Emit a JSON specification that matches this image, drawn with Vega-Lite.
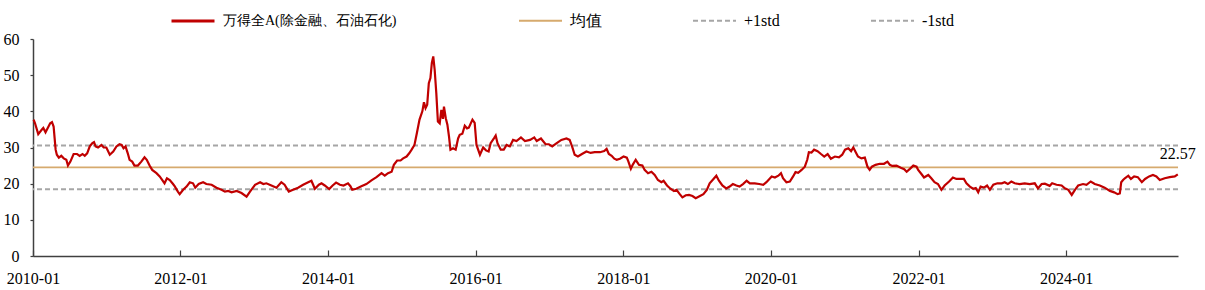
{
  "$schema": "https://vega.github.io/schema/vega-lite/v6.json",
  "width": 1145,
  "height": 217,
  "autosize": {"type": "none"},
  "padding": {"left": 33, "top": 39, "right": 27, "bottom": 34},
  "background": "white",
  "config": {
    "font": "'Liberation Serif', 'Times New Roman', serif",
    "view": {"stroke": null},
    "axis": {"labelFont": "'Liberation Serif', 'Times New Roman', serif", "labelFontSize": 16, "labelColor": "#000000", "grid": false, "domainColor": "#404040", "domainWidth": 1.5, "tickColor": "#404040", "tickWidth": 1.2, "labelOverlap": false},
    "axisY": {"labelOverlap": false},
    "legend": {"labelFont": "'Liberation Serif', 'Times New Roman', serif", "labelFontSize": 16, "labelColor": "#000000"}
  },
  "datasets": {
    "pe": [
      {"date":"2010-01-04","pe":37.7},{"date":"2010-01-11","pe":36.7},{"date":"2010-01-27","pe":33.7},{"date":"2010-02-13","pe":34.9},{"date":"2010-02-21","pe":35.4},{"date":"2010-03-04","pe":34.2},{"date":"2010-03-15","pe":35.4},{"date":"2010-03-27","pe":36.7},{"date":"2010-04-05","pe":37.0},{"date":"2010-04-13","pe":35.8},{"date":"2010-04-18","pe":32.6},{"date":"2010-04-23","pe":29.4},{"date":"2010-04-29","pe":28.0},{"date":"2010-05-09","pe":27.2},{"date":"2010-05-21","pe":27.7},{"date":"2010-06-02","pe":27.0},{"date":"2010-06-15","pe":26.6},{"date":"2010-06-23","pe":25.0},{"date":"2010-07-05","pe":26.1},{"date":"2010-07-21","pe":28.2},{"date":"2010-08-07","pe":28.2},{"date":"2010-08-20","pe":27.7},{"date":"2010-09-03","pe":28.2},{"date":"2010-09-14","pe":27.7},{"date":"2010-09-26","pe":28.4},{"date":"2010-10-09","pe":30.3},{"date":"2010-10-22","pe":31.2},{"date":"2010-10-30","pe":31.5},{"date":"2010-11-07","pe":30.3},{"date":"2010-11-19","pe":30.0},{"date":"2010-12-06","pe":30.7},{"date":"2010-12-17","pe":30.0},{"date":"2010-12-30","pe":30.0},
      {"date":"2011-01-16","pe":28.0},{"date":"2011-02-02","pe":28.9},{"date":"2011-02-18","pe":30.3},{"date":"2011-03-05","pe":30.9},{"date":"2011-03-16","pe":30.7},{"date":"2011-03-25","pe":29.8},{"date":"2011-04-04","pe":30.3},{"date":"2011-04-15","pe":28.4},{"date":"2011-04-24","pe":26.6},{"date":"2011-05-07","pe":26.1},{"date":"2011-05-18","pe":25.0},{"date":"2011-06-04","pe":25.0},{"date":"2011-06-21","pe":26.1},{"date":"2011-07-07","pe":27.3},{"date":"2011-07-18","pe":26.6},{"date":"2011-08-01","pe":25.0},{"date":"2011-08-14","pe":23.8},{"date":"2011-09-04","pe":22.9},{"date":"2011-09-20","pe":22.0},{"date":"2011-10-03","pe":21.0},{"date":"2011-10-14","pe":20.1},{"date":"2011-10-26","pe":21.5},{"date":"2011-11-09","pe":21.0},{"date":"2011-11-25","pe":19.9},{"date":"2011-12-03","pe":19.3},{"date":"2011-12-19","pe":17.8},{"date":"2011-12-28","pe":17.1},
      {"date":"2012-01-14","pe":18.3},{"date":"2012-01-31","pe":19.2},{"date":"2012-02-16","pe":20.4},{"date":"2012-03-03","pe":20.1},{"date":"2012-03-14","pe":18.9},{"date":"2012-03-31","pe":19.9},{"date":"2012-04-22","pe":20.4},{"date":"2012-05-08","pe":19.9},{"date":"2012-06-03","pe":19.7},{"date":"2012-06-27","pe":18.9},{"date":"2012-07-22","pe":18.3},{"date":"2012-08-08","pe":17.8},{"date":"2012-08-24","pe":18.0},{"date":"2012-09-10","pe":17.6},{"date":"2012-10-05","pe":18.0},{"date":"2012-10-29","pe":17.4},{"date":"2012-11-23","pe":16.4},{"date":"2012-12-10","pe":17.8},
      {"date":"2013-01-04","pe":19.7},{"date":"2013-01-29","pe":20.4},{"date":"2013-02-14","pe":19.9},{"date":"2013-03-01","pe":20.1},{"date":"2013-03-26","pe":19.5},{"date":"2013-04-20","pe":18.9},{"date":"2013-05-14","pe":20.4},{"date":"2013-05-30","pe":19.7},{"date":"2013-06-20","pe":17.8},{"date":"2013-07-11","pe":18.3},{"date":"2013-08-05","pe":18.9},{"date":"2013-08-30","pe":19.7},{"date":"2013-09-24","pe":20.4},{"date":"2013-10-10","pe":20.8},{"date":"2013-10-27","pe":18.6},{"date":"2013-11-16","pe":19.7},{"date":"2013-11-29","pe":20.1},{"date":"2013-12-15","pe":19.5},
      {"date":"2014-01-06","pe":18.5},{"date":"2014-01-23","pe":19.5},{"date":"2014-02-09","pe":20.3},{"date":"2014-02-28","pe":19.7},{"date":"2014-03-18","pe":19.5},{"date":"2014-04-09","pe":20.1},{"date":"2014-04-21","pe":19.3},{"date":"2014-04-30","pe":18.3},{"date":"2014-05-20","pe":18.6},{"date":"2014-06-14","pe":19.3},{"date":"2014-07-09","pe":19.9},{"date":"2014-08-03","pe":20.9},{"date":"2014-08-28","pe":21.8},{"date":"2014-09-22","pe":22.9},{"date":"2014-10-08","pe":22.2},{"date":"2014-10-24","pe":22.9},{"date":"2014-11-11","pe":23.3},{"date":"2014-11-22","pe":25.2},{"date":"2014-12-08","pe":26.4},{"date":"2014-12-25","pe":26.4},
      {"date":"2015-01-07","pe":27.0},{"date":"2015-01-24","pe":27.5},{"date":"2015-02-06","pe":28.4},{"date":"2015-02-18","pe":29.4},{"date":"2015-03-04","pe":30.7},{"date":"2015-03-16","pe":34.0},{"date":"2015-03-29","pe":37.7},{"date":"2015-04-12","pe":40.0},{"date":"2015-04-20","pe":42.5},{"date":"2015-04-28","pe":40.9},{"date":"2015-05-06","pe":41.8},{"date":"2015-05-14","pe":47.8},{"date":"2015-05-22","pe":49.2},{"date":"2015-05-29","pe":53.4},{"date":"2015-06-05","pe":55.2},{"date":"2015-06-12","pe":51.5},{"date":"2015-06-20","pe":45.1},{"date":"2015-06-28","pe":37.2},{"date":"2015-07-07","pe":36.7},{"date":"2015-07-15","pe":40.4},{"date":"2015-07-23","pe":37.9},{"date":"2015-07-28","pe":41.3},{"date":"2015-08-06","pe":38.1},{"date":"2015-08-14","pe":36.3},{"date":"2015-08-22","pe":33.0},{"date":"2015-08-29","pe":29.4},{"date":"2015-09-11","pe":29.8},{"date":"2015-09-24","pe":29.4},{"date":"2015-10-06","pe":32.5},{"date":"2015-10-14","pe":33.5},{"date":"2015-10-27","pe":33.8},{"date":"2015-11-08","pe":36.0},{"date":"2015-11-19","pe":35.3},{"date":"2015-11-28","pe":35.5},{"date":"2015-12-16","pe":37.7},{"date":"2015-12-27","pe":36.8},
      {"date":"2016-01-05","pe":30.7},{"date":"2016-01-22","pe":28.0},{"date":"2016-02-07","pe":30.0},{"date":"2016-02-21","pe":29.2},{"date":"2016-03-05","pe":28.9},{"date":"2016-03-15","pe":31.2},{"date":"2016-04-01","pe":32.6},{"date":"2016-04-09","pe":33.3},{"date":"2016-04-18","pe":31.2},{"date":"2016-05-04","pe":29.4},{"date":"2016-05-19","pe":29.4},{"date":"2016-06-02","pe":30.7},{"date":"2016-06-18","pe":30.3},{"date":"2016-07-04","pe":32.1},{"date":"2016-07-21","pe":31.8},{"date":"2016-08-12","pe":32.8},{"date":"2016-09-01","pe":31.8},{"date":"2016-09-26","pe":32.1},{"date":"2016-10-17","pe":32.8},{"date":"2016-10-29","pe":31.8},{"date":"2016-11-19","pe":32.5},{"date":"2016-12-12","pe":30.9},{"date":"2016-12-28","pe":30.9},
      {"date":"2017-01-14","pe":30.3},{"date":"2017-02-05","pe":31.2},{"date":"2017-02-28","pe":32.1},{"date":"2017-03-25","pe":32.5},{"date":"2017-04-10","pe":32.1},{"date":"2017-04-22","pe":30.3},{"date":"2017-05-05","pe":28.0},{"date":"2017-05-21","pe":27.5},{"date":"2017-06-10","pe":28.2},{"date":"2017-07-02","pe":28.9},{"date":"2017-07-23","pe":28.5},{"date":"2017-08-12","pe":28.7},{"date":"2017-09-07","pe":28.7},{"date":"2017-09-28","pe":29.0},{"date":"2017-10-10","pe":29.6},{"date":"2017-10-21","pe":28.2},{"date":"2017-11-04","pe":27.7},{"date":"2017-11-17","pe":26.9},{"date":"2017-11-29","pe":26.6},{"date":"2017-12-15","pe":26.9},
      {"date":"2018-01-02","pe":27.5},{"date":"2018-01-18","pe":27.2},{"date":"2018-01-26","pe":26.1},{"date":"2018-02-07","pe":24.1},{"date":"2018-02-16","pe":25.2},{"date":"2018-03-03","pe":26.6},{"date":"2018-03-19","pe":25.2},{"date":"2018-04-05","pe":25.0},{"date":"2018-04-16","pe":23.8},{"date":"2018-05-03","pe":22.9},{"date":"2018-05-20","pe":23.3},{"date":"2018-06-05","pe":22.4},{"date":"2018-06-21","pe":21.0},{"date":"2018-07-08","pe":20.4},{"date":"2018-07-19","pe":20.8},{"date":"2018-08-05","pe":19.5},{"date":"2018-08-22","pe":18.6},{"date":"2018-09-08","pe":18.0},{"date":"2018-09-21","pe":18.3},{"date":"2018-10-07","pe":17.1},{"date":"2018-10-20","pe":16.2},{"date":"2018-11-06","pe":16.8},{"date":"2018-11-22","pe":16.9},{"date":"2018-12-09","pe":16.6},{"date":"2018-12-25","pe":16.0},
      {"date":"2019-01-15","pe":16.6},{"date":"2019-02-01","pe":17.1},{"date":"2019-02-18","pe":18.3},{"date":"2019-03-04","pe":20.1},{"date":"2019-03-23","pe":21.3},{"date":"2019-04-06","pe":22.2},{"date":"2019-04-19","pe":20.8},{"date":"2019-05-06","pe":19.5},{"date":"2019-05-25","pe":18.7},{"date":"2019-06-11","pe":19.2},{"date":"2019-06-27","pe":19.9},{"date":"2019-07-14","pe":19.5},{"date":"2019-07-30","pe":19.2},{"date":"2019-08-16","pe":19.9},{"date":"2019-09-03","pe":20.8},{"date":"2019-09-19","pe":20.1},{"date":"2019-10-13","pe":20.1},{"date":"2019-11-04","pe":19.9},{"date":"2019-11-24","pe":19.7},{"date":"2019-12-10","pe":20.4},
      {"date":"2020-01-05","pe":22.0},{"date":"2020-01-21","pe":21.7},{"date":"2020-02-07","pe":22.2},{"date":"2020-02-20","pe":22.9},{"date":"2020-03-01","pe":21.5},{"date":"2020-03-18","pe":20.4},{"date":"2020-04-04","pe":20.6},{"date":"2020-04-20","pe":22.0},{"date":"2020-05-02","pe":23.2},{"date":"2020-05-15","pe":23.0},{"date":"2020-06-01","pe":23.8},{"date":"2020-06-17","pe":24.7},{"date":"2020-06-29","pe":26.6},{"date":"2020-07-07","pe":28.7},{"date":"2020-07-20","pe":28.6},{"date":"2020-08-02","pe":29.4},{"date":"2020-08-19","pe":29.0},{"date":"2020-09-05","pe":28.2},{"date":"2020-09-21","pe":27.5},{"date":"2020-10-08","pe":28.2},{"date":"2020-10-24","pe":26.9},{"date":"2020-11-13","pe":27.5},{"date":"2020-12-03","pe":27.3},{"date":"2020-12-19","pe":28.0},
      {"date":"2021-01-02","pe":29.4},{"date":"2021-01-18","pe":29.8},{"date":"2021-02-01","pe":29.0},{"date":"2021-02-12","pe":30.0},{"date":"2021-02-24","pe":28.7},{"date":"2021-03-07","pe":27.5},{"date":"2021-03-24","pe":27.0},{"date":"2021-04-10","pe":27.2},{"date":"2021-04-23","pe":24.7},{"date":"2021-05-04","pe":23.8},{"date":"2021-05-15","pe":24.7},{"date":"2021-06-02","pe":25.2},{"date":"2021-06-23","pe":25.5},{"date":"2021-07-14","pe":25.5},{"date":"2021-07-31","pe":26.1},{"date":"2021-08-12","pe":25.2},{"date":"2021-08-23","pe":24.9},{"date":"2021-09-14","pe":25.0},{"date":"2021-10-05","pe":24.4},{"date":"2021-10-22","pe":24.0},{"date":"2021-11-03","pe":23.3},{"date":"2021-11-19","pe":24.1},{"date":"2021-12-06","pe":25.0},{"date":"2021-12-22","pe":24.7},{"date":"2021-12-30","pe":23.8},
      {"date":"2022-01-16","pe":22.6},{"date":"2022-01-28","pe":21.7},{"date":"2022-02-18","pe":22.4},{"date":"2022-03-05","pe":21.5},{"date":"2022-03-21","pe":20.4},{"date":"2022-04-07","pe":19.9},{"date":"2022-04-24","pe":18.3},{"date":"2022-05-10","pe":19.5},{"date":"2022-06-01","pe":20.6},{"date":"2022-06-20","pe":21.7},{"date":"2022-07-07","pe":21.3},{"date":"2022-07-23","pe":21.3},{"date":"2022-08-13","pe":21.3},{"date":"2022-08-26","pe":20.1},{"date":"2022-09-12","pe":19.2},{"date":"2022-09-28","pe":18.6},{"date":"2022-10-11","pe":18.8},{"date":"2022-10-23","pe":17.6},{"date":"2022-11-04","pe":19.2},{"date":"2022-11-20","pe":18.9},{"date":"2022-12-06","pe":19.5},{"date":"2022-12-20","pe":18.3},
      {"date":"2023-01-06","pe":19.7},{"date":"2023-01-26","pe":20.1},{"date":"2023-02-17","pe":20.1},{"date":"2023-03-03","pe":20.4},{"date":"2023-03-19","pe":19.9},{"date":"2023-04-05","pe":20.6},{"date":"2023-04-22","pe":20.1},{"date":"2023-05-16","pe":19.9},{"date":"2023-06-10","pe":20.1},{"date":"2023-07-05","pe":19.9},{"date":"2023-07-30","pe":20.1},{"date":"2023-08-15","pe":18.7},{"date":"2023-09-02","pe":19.9},{"date":"2023-09-18","pe":20.0},{"date":"2023-10-12","pe":19.4},{"date":"2023-10-24","pe":20.1},{"date":"2023-11-15","pe":19.7},{"date":"2023-12-10","pe":19.5},{"date":"2023-12-26","pe":18.7},
      {"date":"2024-01-12","pe":18.3},{"date":"2024-01-29","pe":16.9},{"date":"2024-02-14","pe":18.3},{"date":"2024-03-01","pe":19.5},{"date":"2024-03-25","pe":19.9},{"date":"2024-04-11","pe":19.7},{"date":"2024-05-02","pe":20.6},{"date":"2024-05-22","pe":19.9},{"date":"2024-06-16","pe":19.5},{"date":"2024-07-10","pe":18.9},{"date":"2024-08-05","pe":18.0},{"date":"2024-08-26","pe":17.6},{"date":"2024-09-12","pe":17.1},{"date":"2024-09-23","pe":17.3},{"date":"2024-09-30","pe":20.4},{"date":"2024-10-09","pe":21.0},{"date":"2024-10-18","pe":21.5},{"date":"2024-11-04","pe":22.2},{"date":"2024-11-17","pe":21.3},{"date":"2024-12-03","pe":22.0},{"date":"2024-12-21","pe":21.8},
      {"date":"2025-01-10","pe":20.4},{"date":"2025-01-26","pe":21.3},{"date":"2025-02-15","pe":22.0},{"date":"2025-03-06","pe":22.4},{"date":"2025-03-23","pe":22.0},{"date":"2025-04-09","pe":21.0},{"date":"2025-05-03","pe":21.5},{"date":"2025-05-28","pe":21.8},{"date":"2025-06-22","pe":22.0},{"date":"2025-07-07","pe":22.57}
    ],
    "stats": [
      {"name": "均值", "pe": 24.5},
      {"name": "+1std", "pe": 30.55},
      {"name": "-1std", "pe": 18.45}
    ]
  },
  "encoding": {
    "y": {
      "field": "pe", "type": "quantitative", "title": null,
      "scale": {"domain": [0, 60]},
      "axis": {"values": [0, 10, 20, 30, 40, 50, 60], "tickCount": 7, "tickSize": 3, "labelPadding": 11, "labelOverlap": false, "title": null}
    }
  },
  "layer": [
    {
      "data": {"name": "stats"},
      "mark": {"type": "rule", "strokeWidth": 1.8},
      "encoding": {
        "color": {
          "field": "name", "type": "nominal",
          "scale": {"domain": ["均值", "+1std", "-1std"], "range": ["#D6AA6E", "#A6A6A6", "#A6A6A6"]},
          "legend": {
            "title": null, "orient": "none", "legendX": 485, "legendY": -41, "direction": "horizontal",
            "symbolType": "stroke", "symbolSize": 1849, "symbolStrokeWidth": 2, "labelFontSize": 16,
            "labelOffset": 7, "columnPadding": 87, "padding": 0, "labelLimit": 400
          }
        },
        "strokeDash": {
          "field": "name", "type": "nominal",
          "scale": {"domain": ["均值", "+1std", "-1std"], "range": [[1, 0], [5, 3], [5, 3]]},
          "legend": {
            "title": null, "orient": "none", "legendX": 485, "legendY": -41, "direction": "horizontal",
            "symbolType": "stroke", "symbolSize": 1849, "symbolStrokeWidth": 2, "labelFontSize": 16,
            "labelOffset": 7, "columnPadding": 87, "padding": 0, "labelLimit": 400
          }
        }
      }
    },
    {
      "data": {"name": "pe"},
      "mark": {"type": "line", "strokeWidth": 2.2},
      "encoding": {
        "x": {
          "field": "date", "type": "temporal", "title": null,
          "scale": {"type": "utc", "domain": [{"year": 2010, "month": 1, "date": 1, "utc": true}, {"year": 2025, "month": 7, "date": 8, "utc": true}]},
          "axis": {
            "values": [
              {"year": 2010, "month": 1, "date": 1, "utc": true}, {"year": 2012, "month": 1, "date": 1, "utc": true},
              {"year": 2014, "month": 1, "date": 1, "utc": true}, {"year": 2016, "month": 1, "date": 1, "utc": true},
              {"year": 2018, "month": 1, "date": 1, "utc": true}, {"year": 2020, "month": 1, "date": 1, "utc": true},
              {"year": 2022, "month": 1, "date": 1, "utc": true}, {"year": 2024, "month": 1, "date": 1, "utc": true}
            ],
            "format": "%Y-%m", "labelFlush": false, "labelOverlap": false,
            "tickSize": -6, "labelPadding": 20
          }
        },
        "color": {
          "datum": "万得全A(除金融、石油石化)",
          "scale": {"range": ["#C00000"]},
          "legend": {
            "title": null, "orient": "none", "legendX": 137, "legendY": -41, "direction": "horizontal",
            "symbolType": "stroke", "symbolSize": 1849, "symbolStrokeWidth": 3, "labelFontSize": 14,
            "labelOffset": 7, "padding": 0, "labelLimit": 400
          }
        }
      }
    },
    {
      "data": {"name": "pe"},
      "transform": [{"filter": "datum.pe == 22.57"}],
      "mark": {"type": "text", "fontSize": 16, "font": "'Liberation Serif', 'Times New Roman', serif", "color": "#000000", "baseline": "alphabetic", "dy": -15, "align": "center"},
      "encoding": {
        "x": {"field": "date", "type": "temporal"},
        "text": {"field": "pe", "type": "quantitative", "format": ".2f"}
      }
    }
  ],
  "resolve": {"scale": {"color": "independent", "strokeDash": "independent"}, "legend": {"color": "independent", "strokeDash": "independent"}}
}
